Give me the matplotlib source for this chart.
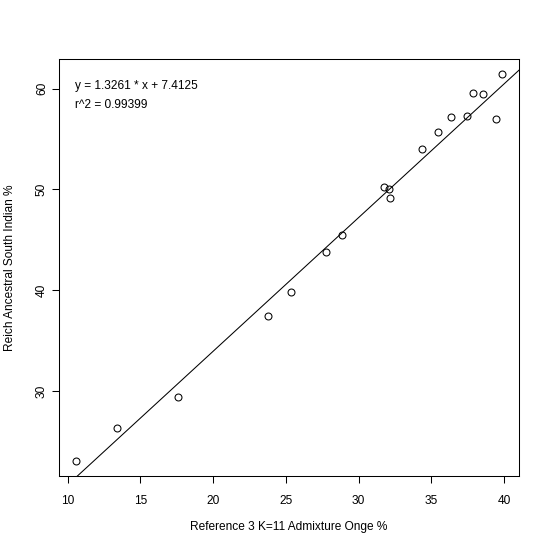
import matplotlib
matplotlib.use("Agg")
import matplotlib.pyplot as plt
import numpy as np

plt.rcParams['font.family'] = ['Liberation Sans', 'DejaVu Sans']

onge = [39.86, 37.87, 38.55, 36.38, 37.48, 39.47, 35.46, 34.37, 31.76, 32.08,
        32.17, 28.87, 27.78, 25.37, 23.78, 17.6, 13.39, 10.58]
asi = [61.40, 59.59, 59.49, 57.18, 57.28, 56.98, 55.70, 53.98, 50.25, 50.05,
       49.16, 45.44, 43.75, 39.79, 37.48, 29.42, 26.32, 23.10]
slope = 1.3261
intercept = 7.4125
r2 = 0.99399

fs = 8.6
fig = plt.figure(figsize=(5.5, 5.5), dpi=100)
ax = fig.add_axes([59/550, 74/550, 460/550, 417/550])

ax.plot(onge, asi, 'o', mfc='none', mec='black', ms=5, mew=0.75)

# R-style 4% padding around data range
xr = max(onge) - min(onge)
yr = max(asi) - min(asi)
x0, x1 = min(onge) - 0.04 * xr, max(onge) + 0.04 * xr
y0, y1 = min(asi) - 0.04 * yr, max(asi) + 0.04 * yr
ax.set_xlim(x0, x1)
ax.set_ylim(y0, y1)

xs = np.array([x0, x1])
ax.plot(xs, slope * xs + intercept, color='black', lw=0.75)

ax.text(10.53, 60.26, "y = %.4f * x + %.4f" % (slope, intercept), fontsize=fs, va='center')
ax.text(10.53, 58.35, "r^2 = %.5f" % r2, fontsize=fs, va='center')

ax.set_xticks([10, 15, 20, 25, 30, 35, 40])
ax.set_yticks([30, 40, 50, 60])
ax.tick_params(length=5, width=0.75, labelsize=fs)
ax.tick_params(axis='x', pad=8.5)
ax.tick_params(axis='y', pad=3)
for lab in ax.get_yticklabels():
    lab.set_rotation(90)
    lab.set_va('center')
for s in ax.spines.values():
    s.set_linewidth(0.75)

ax.set_xlabel("Reference 3 K=11 Admixture Onge %", fontsize=fs, va='center')
ax.set_ylabel("Reich Ancestral South Indian %", fontsize=fs, va='center')
ax.xaxis.set_label_coords(0.5, (476 - 527) / 417)
ax.yaxis.set_label_coords((10 - 59) / 460, 0.5)

fig.savefig("out.png", dpi=100)
